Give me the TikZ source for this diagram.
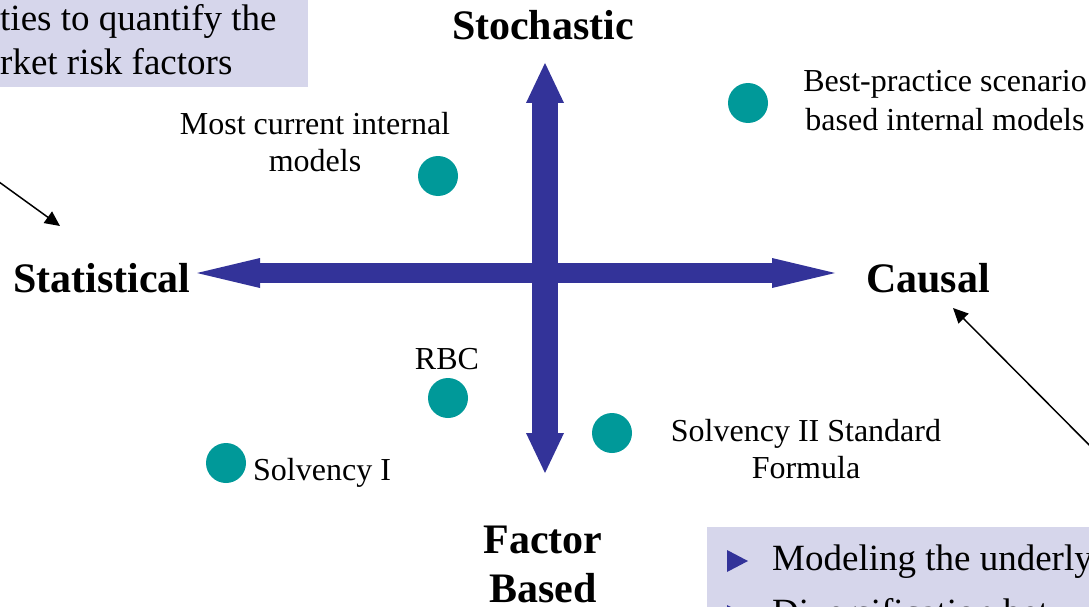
\documentclass[tikz,border=0pt]{standalone}
\usepackage{fontspec}
\setmainfont{Liberation Serif}
\usetikzlibrary{arrows.meta}
\definecolor{axisblue}{RGB}{51,51,153}
\definecolor{dotteal}{RGB}{0,153,153}
\definecolor{boxfill}{RGB}{214,214,235}
\tikzset{
  axislbl/.style={font=\fontsize{42}{48}\selectfont\bfseries,inner sep=0,align=center},
  lbl/.style={font=\fontsize{32}{37}\selectfont,inner sep=0,align=center},
  boxtxt/.style={font=\fontsize{37}{44}\selectfont,inner sep=0,align=left},
  dot/.style={circle,fill=dotteal,minimum size=40pt,inner sep=0},
  haxis/.style={axisblue,line width=20pt,
    {Triangle[length=63pt,width=30pt,line width=0pt]}-{Triangle[length=63pt,width=30pt,line width=0pt]}},
  vaxis/.style={axisblue,line width=26pt,
    {Triangle[length=40pt,width=38pt,line width=0pt]}-{Triangle[length=40pt,width=38pt,line width=0pt]}},
  pointer/.style={line width=1.5pt,-{Triangle[length=15pt,width=14pt]}}
}

\begin{document}
\begin{tikzpicture}[x=1pt,y=-1pt]
\useasboundingbox (0,0) rectangle (1089,607);
\clip (0,0) rectangle (1089,607);

% shaded boxes
\fill[boxfill] (-10,-10) rectangle (308,87);
\fill[boxfill] (707,527) rectangle (1100,620);
\node[boxtxt,anchor=north west] (boxL) at (0,4) {ties to quantify the\\rket risk factors};
\fill[axisblue] (727,550) -- (748,561) -- (727,572) -- cycle;
\fill[axisblue] (727,605) -- (748,616) -- (727,627) -- cycle;
\node[boxtxt,anchor=base west] (boxR) at (772,570) {Modeling the underly};
\node[boxtxt,anchor=base west] (boxR2) at (772,624) {Diversification bet};

% axes
\coordinate (west) at (197,273);
\coordinate (east) at (835,273);
\coordinate (north) at (545,63);
\coordinate (south) at (545,473);
\draw[vaxis] (north) -- (south);
\draw[haxis] (west) -- (east);

\node[axislbl,anchor=base] (stoch) at (543,40) {Stochastic};
\node[axislbl,anchor=base] (stat) at (102,292) {Statistical};
\node[axislbl,anchor=base] (causal) at (928,292) {Causal};
\node[axislbl,anchor=north] (factor) at (543,526) {Factor\\[1pt]Based};

% models
\node[dot] (dBest) at (748,103) {};
\node[dot] (dMost) at (438,176) {};
\node[dot] (dRBC) at (448,398) {};
\node[dot] (dSII) at (612,433) {};
\node[dot] (dSI) at (226,463) {};

\node[lbl,anchor=north] (lBest) at (945,70) {Best-practice scenario\\[2pt]based internal models};
\node[lbl,anchor=north] (lMost) at (315,112) {Most current internal\\models};
\node[lbl,anchor=base] (lRBC) at (447,369) {RBC};
\node[lbl,anchor=north] (lSII) at (806,419) {Solvency II Standard\\Formula};
\node[lbl,anchor=base west] (lSI) at (253,480) {Solvency I};

% pointers from the boxes
\coordinate (fromL) at (-30,161);
\coordinate (toL) at (60,226);
\coordinate (fromR) at (1120,476);
\coordinate (toR) at (953,308);
\draw[pointer] (fromL) -- (toL);
\draw[pointer] (fromR) -- (toR);
\end{tikzpicture}
\end{document}
